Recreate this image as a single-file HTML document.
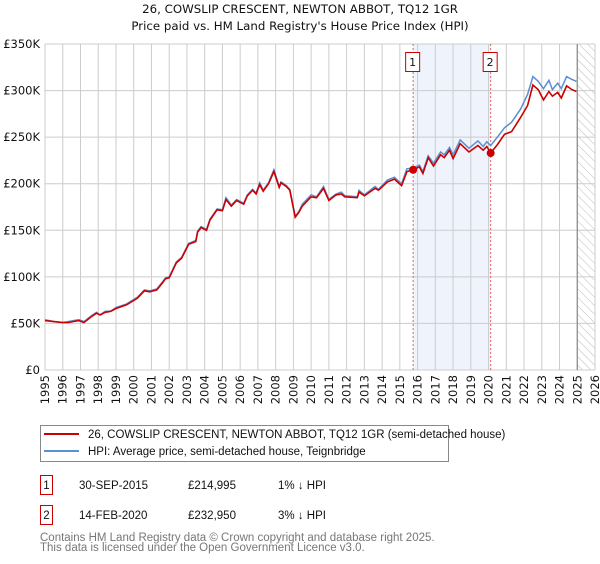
<!DOCTYPE html>
<html><head><meta charset="utf-8"><style>
body{margin:0;background:#fff;font-family:"DejaVu Sans","Liberation Sans",sans-serif;}
svg text{font-family:"DejaVu Sans","Liberation Sans",sans-serif;}
svg .lib{font-family:"Liberation Sans","DejaVu Sans",sans-serif;}
</style></head><body>
<svg id="c" width="600" height="560" xmlns="http://www.w3.org/2000/svg">
<defs><pattern id="hatch" width="6" height="6" patternUnits="userSpaceOnUse" patternTransform="rotate(-45)"><line x1="0" y1="0" x2="0" y2="6" stroke="#bbb" stroke-width="1"/></pattern></defs>
<text x="300" y="13" text-anchor="middle" font-size="11.8" fill="#111">26, COWSLIP CRESCENT, NEWTON ABBOT, TQ12 1GR</text>
<text x="300" y="30" text-anchor="middle" font-size="11.8" fill="#111">Price paid vs. HM Land Registry's House Price Index (HPI)</text>
<g id="grid"></g><g id="marks"></g>
<g>
<rect x="40.5" y="425.5" width="408" height="36" fill="#fff" stroke="#888"/>
<line x1="44" y1="434" x2="79" y2="434" stroke="#cc0000" stroke-width="2"/>
<text class="lib" x="88" y="438" font-size="11.5" fill="#111">26, COWSLIP CRESCENT, NEWTON ABBOT, TQ12 1GR (semi-detached house)</text>
<line x1="44" y1="451" x2="79" y2="451" stroke="#5b8fd0" stroke-width="2"/>
<text class="lib" x="88" y="455" font-size="11.5" fill="#111">HPI: Average price, semi-detached house, Teignbridge</text>
</g>
<g class="lib" font-size="11.5" fill="#111">
<rect x="40.5" y="475.5" width="12" height="19" fill="#fff" stroke="#cc0000"/><text class="lib" x="46.5" y="489" text-anchor="middle">1</text>
<text class="lib" x="79" y="489">30-SEP-2015</text><text class="lib" x="188" y="489">£214,995</text><text class="lib" x="278" y="489">1% ↓ HPI</text>
<rect x="40.5" y="505.5" width="12" height="19" fill="#fff" stroke="#cc0000"/><text class="lib" x="46.5" y="519" text-anchor="middle">2</text>
<text class="lib" x="79" y="519">14-FEB-2020</text><text class="lib" x="188" y="519">£232,950</text><text class="lib" x="278" y="519">3% ↓ HPI</text>
</g>
<text class="lib" x="40" y="541" font-size="11.5" fill="#777">Contains HM Land Registry data © Crown copyright and database right 2025.</text>
<text class="lib" x="40" y="551" font-size="11.5" fill="#777">This data is licensed under the Open Government Licence v3.0.</text>
</svg>
<script>
const years=[1995.0,1995.5,1996.0,1996.3,1996.9,1997.2,1997.6,1997.9,1998.1,1998.4,1998.7,1999.0,1999.6,2000.2,2000.6,2000.9,2001.3,2001.6,2001.8,2002.0,2002.4,2002.7,2003.1,2003.5,2003.6,2003.8,2004.1,2004.3,2004.7,2005.0,2005.2,2005.5,2005.8,2006.2,2006.4,2006.7,2006.9,2007.1,2007.3,2007.6,2007.9,2008.2,2008.3,2008.6,2008.8,2009.1,2009.3,2009.5,2010.0,2010.3,2010.7,2011.0,2011.4,2011.7,2011.9,2012.6,2012.7,2013.0,2013.6,2013.8,2014.3,2014.7,2014.8,2015.1,2015.4,2015.75,2016.1,2016.3,2016.6,2016.9,2017.3,2017.5,2017.8,2018.0,2018.4,2018.9,2019.4,2019.7,2019.9,2020.12,2020.5,2020.9,2021.3,2021.8,2022.2,2022.5,2022.8,2023.1,2023.4,2023.6,2023.9,2024.1,2024.4,2024.7,2024.95];
const hpi=[54,52,51,52,54,52,58,62,59,63,63,67,71,78,86,85,87,94,99,100,116,121,136,139,149,154,151,162,173,172,185,177,183,179,188,194,190,201,193,201,215,197,202,198,194,165,170,178,188,186,197,183,189,191,187,186,193,188,197,194,204,207,205,200,216,217,220,213,230,222,234,231,239,231,247,238,246,240,245,241,250,260,266,280,296,315,310,302,311,301,308,302,315,312,310];
const price=[53,52,51,51,53,51,57,61,59,62,63,66,70,77,85,84,86,93,98,99,115,120,135,138,148,153,150,161,172,171,183,176,182,178,187,193,189,199,192,200,213,196,201,197,193,164,169,176,186,185,195,182,188,189,186,185,191,187,195,193,202,205,203,198,213,215,218,211,228,219,231,228,236,227,243,234,241,236,240,233,242,253,256,271,284,306,301,290,299,294,298,292,305,301,299];
const yTicks=[0,50,100,150,200,250,300,350];
const yTickLabels=["£0","£50K","£100K","£150K","£200K","£250K","£300K","£350K"];
const xTicks=[1995,1996,1997,1998,1999,2000,2001,2002,2003,2004,2005,2006,2007,2008,2009,2010,2011,2012,2013,2014,2015,2016,2017,2018,2019,2020,2021,2022,2023,2024,2025,2026];
const saleYears=[2015.75,2020.12];
const salePrices=[214.995,232.95];
const saleLabels=["1","2"];
const X0=45,X1=595,Y0=370,Y1=44;
const xs=y=>X0+(y-1995)/(2026-1995)*(X1-X0);
const ys=v=>Y0-v/350*(Y0-Y1);
const NS="http://www.w3.org/2000/svg";
function mk(p,t,a){const e=document.createElementNS(NS,t);for(const k in a)e.setAttribute(k,a[k]);p.appendChild(e);return e;}
const g=document.getElementById('grid'),m=document.getElementById('marks');
const sh=mk(g,'rect',{x:xs(saleYears[0]),y:Y1,width:xs(saleYears[1])-xs(saleYears[0]),height:Y0-Y1,fill:'#eef3fc'});


const ht=mk(g,'rect',{x:xs(2025),y:Y1,width:X1-xs(2025),height:Y0-Y1,fill:'url(#hatch)'});


xTicks.forEach(t=>{const l=mk(g,'line',{x1:xs(t),x2:xs(t),y1:Y1,y2:Y0,stroke:'#ccc'});


const tx=mk(g,'text',{x:0,y:0,'font-size':11.5,fill:'#111','text-anchor':'end',transform:`translate(${xs(t)+4},${Y0+5}) rotate(-90)`});tx.textContent=t;

});
yTicks.forEach((t,i)=>{const l=mk(g,'line',{x1:X0,x2:X1,y1:ys(t),y2:ys(t),stroke:'#ccc'});


const tx=mk(g,'text',{x:40,y:ys(t)+4,'font-size':11.5,fill:'#111','text-anchor':'end'});tx.textContent=yTickLabels[i];

});
const vl=mk(g,'line',{x1:xs(2025),x2:xs(2025),y1:Y1,y2:Y0,stroke:'#888','stroke-width':1.2});


saleYears.forEach((s,i)=>{const l=mk(m,'line',{x1:xs(s),x2:xs(s),y1:Y1,y2:Y0,stroke:'#e06666','stroke-dasharray':'2,2'});


const b=mk(m,'rect',{x:xs(s)-7.5,y:52.5,width:14,height:19,fill:'#fff',stroke:'#cc0000'});


const t=mk(m,'text',{x:xs(s)-0.5,y:66,'font-size':11,'text-anchor':'middle',fill:'#111'});t.textContent=saleLabels[i];

});
const pts=a=>a.map((v,i)=>xs(years[i]).toFixed(1)+','+ys(v).toFixed(1)).join(' ');
const h=mk(m,'polyline',{points:pts(hpi),fill:'none',stroke:'#5b8fd0','stroke-width':1.5});


const p=mk(m,'polyline',{points:pts(price),fill:'none',stroke:'#cc0000','stroke-width':1.6});


saleYears.forEach((s,i)=>{const c=mk(m,'circle',{cx:xs(s),cy:ys(salePrices[i]),r:4,fill:'#cc0000'});

});
</script>
</body></html>
